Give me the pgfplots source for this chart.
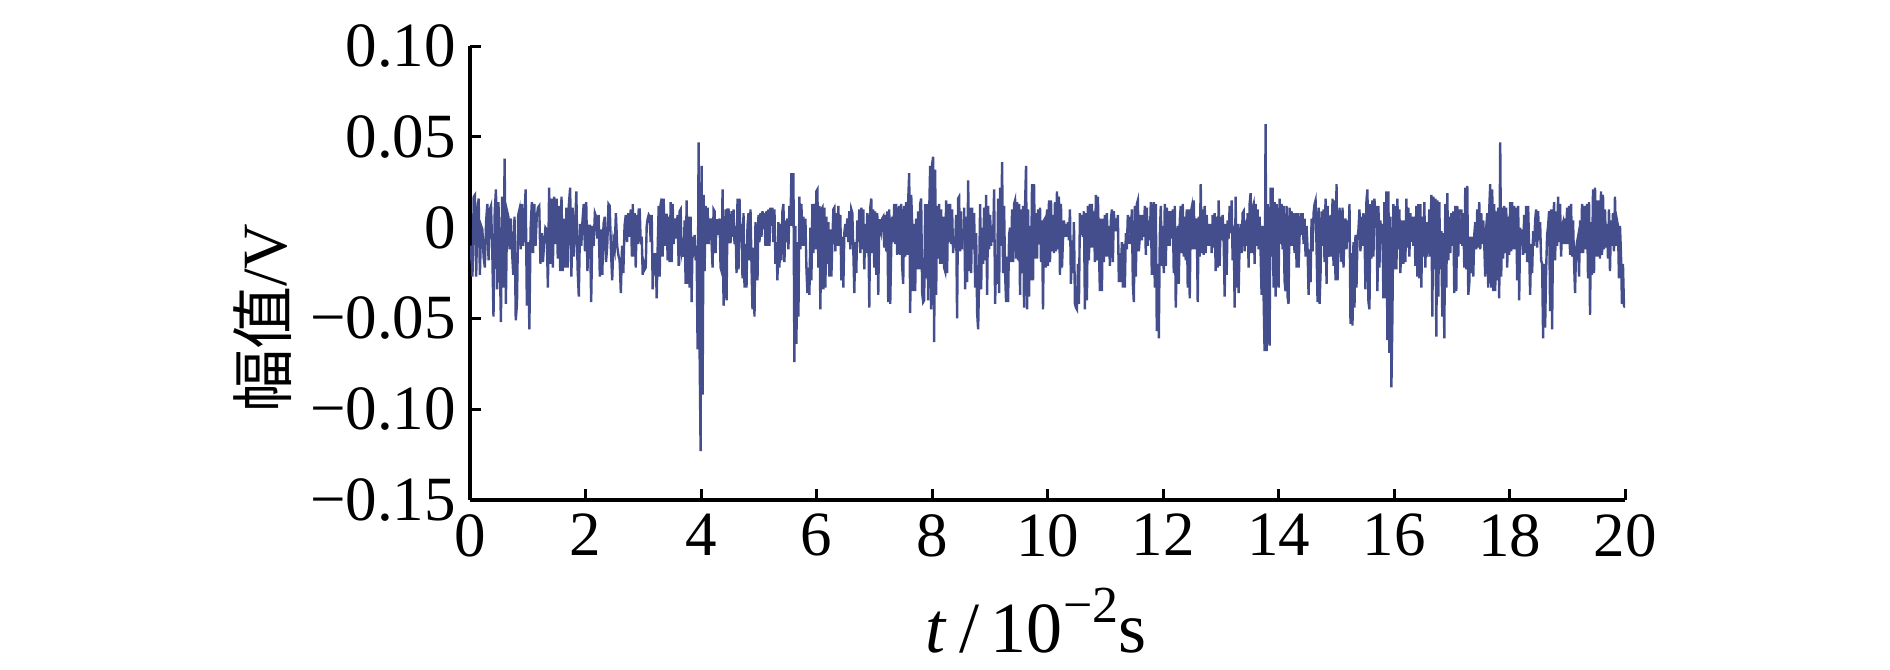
\documentclass[border=0pt]{standalone}
\usepackage{pgfplots}
\pgfplotsset{compat=1.18}
\usepackage{pgfplotstable}
\usepackage{fontspec}
\setmainfont{Liberation Serif}
\newfontfamily\cjk{Noto Sans CJK SC}
\definecolor{sig}{HTML}{454E8D}

% segment A: t from 0, step 0.02141
\pgfplotstableread[row sep=\\,header=false]{
-0.018\\ -0.010\\ -0.027\\ 0.017\\ 0.018\\ -0.027\\ 0.009\\ 0.016\\ -0.026\\ 0.001\\
-0.001\\ -0.016\\ -0.022\\ 0.003\\ 0.013\\ -0.018\\ 0.010\\ 0.012\\ -0.012\\ -0.049\\
0.009\\ 0.021\\ -0.034\\ 0.014\\ -0.014\\ -0.052\\ 0.017\\ -0.033\\ 0.038\\ -0.042\\
0.009\\ 0.006\\ -0.012\\ 0.005\\ -0.013\\ -0.026\\ 0.006\\ -0.051\\ -0.042\\ 0.007\\
0.010\\ -0.012\\ 0.013\\ -0.010\\ 0.006\\ 0.021\\ -0.043\\ -0.008\\ -0.056\\ -0.001\\
0.014\\ -0.014\\ 0.013\\ -0.010\\ 0.006\\ 0.011\\ 0.012\\ -0.020\\ -0.003\\ -0.019\\
-0.008\\ 0.000\\ -0.001\\ -0.033\\ 0.022\\ -0.020\\ 0.016\\ -0.022\\ 0.017\\ -0.009\\
0.016\\ -0.017\\ 0.012\\ -0.024\\ 0.017\\ -0.024\\ 0.005\\ -0.022\\ 0.011\\ -0.022\\
0.013\\ 0.022\\ -0.027\\ 0.011\\ -0.016\\ -0.001\\ 0.020\\ -0.022\\ -0.038\\ 0.002\\
-0.010\\ 0.004\\ 0.013\\ -0.013\\ 0.014\\ -0.024\\ 0.001\\ 0.001\\ -0.041\\ 0.001\\
-0.010\\ 0.008\\ 0.006\\ -0.006\\ 0.007\\ -0.027\\ -0.001\\ -0.026\\ 0.002\\ 0.006\\
-0.019\\ -0.010\\ 0.013\\ 0.012\\ -0.012\\ -0.029\\ -0.008\\ -0.012\\ 0.008\\ -0.010\\
-0.015\\ -0.018\\ -0.036\\ -0.010\\ -0.025\\ 0.001\\ 0.007\\ -0.008\\ 0.008\\ -0.005\\
0.010\\ -0.016\\
}\segA

% segment B: t from 2.818, step 0.01728
\pgfplotstableread[row sep=\\,header=false]{
0.013\\ -0.016\\ 0.008\\ -0.022\\ 0.007\\ -0.009\\ 0.010\\ 0.010\\ -0.009\\ -0.005\\
-0.026\\ -0.020\\ -0.023\\ -0.022\\ 0.001\\ 0.005\\ 0.007\\ 0.006\\ -0.008\\ 0.007\\
-0.034\\ -0.014\\ -0.026\\ -0.014\\ -0.039\\ -0.011\\ 0.012\\ -0.027\\ 0.013\\ 0.016\\
-0.016\\ 0.016\\ -0.010\\ 0.007\\ 0.007\\ -0.018\\ 0.006\\ -0.019\\ 0.014\\ -0.019\\
0.013\\ -0.009\\ 0.005\\ -0.006\\ 0.001\\ 0.007\\ -0.021\\ 0.009\\ 0.010\\ -0.014\\
-0.011\\ -0.016\\ 0.004\\ -0.031\\ 0.015\\ -0.031\\ 0.006\\ -0.033\\ 0.006\\ -0.041\\
-0.005\\ -0.010\\ -0.004\\ -0.018\\ -0.010\\ -0.067\\ 0.047\\ -0.067\\ -0.123\\ 0.034\\
-0.092\\ 0.018\\ -0.024\\ 0.012\\ -0.009\\ 0.011\\ -0.009\\ 0.001\\ 0.005\\ -0.008\\
-0.022\\ 0.010\\ 0.009\\ -0.014\\ 0.004\\ 0.004\\ -0.004\\ 0.005\\ -0.022\\ -0.024\\
0.021\\ -0.043\\ -0.026\\ 0.010\\ -0.040\\ 0.010\\ 0.010\\ -0.008\\ -0.008\\ 0.009\\
-0.005\\ 0.010\\ -0.009\\ 0.001\\ -0.025\\ 0.016\\ -0.023\\ 0.016\\ -0.008\\ 0.002\\
-0.028\\ 0.008\\ -0.033\\ -0.009\\ -0.033\\ 0.001\\ 0.008\\ -0.018\\ 0.010\\ -0.020\\
-0.045\\ -0.011\\ -0.049\\ 0.003\\ -0.010\\ -0.029\\ 0.007\\ -0.008\\ 0.008\\ -0.005\\
0.009\\ 0.004\\ 0.008\\ -0.010\\ 0.009\\ -0.010\\ 0.010\\ -0.010\\ 0.011\\ 0.001\\
0.011\\ -0.008\\ 0.010\\ -0.020\\ -0.008\\ -0.029\\ 0.003\\ -0.022\\ 0.002\\ -0.018\\
0.009\\ 0.013\\ -0.019\\ 0.004\\ -0.008\\ 0.005\\ -0.012\\ 0.012\\ 0.001\\ 0.030\\
0.001\\ 0.030\\ -0.074\\ 0.001\\ -0.064\\ -0.008\\
}\segB

% segment C: t from 5.687, step 0.01728
\pgfplotstableread[row sep=\\,header=false]{
-0.049\\ 0.017\\ -0.012\\ 0.013\\ -0.010\\ 0.006\\ -0.010\\ 0.005\\ -0.022\\ -0.036\\
-0.022\\ -0.037\\ 0.000\\ -0.029\\ 0.013\\ -0.014\\ 0.013\\ -0.012\\ 0.020\\ 0.021\\
-0.022\\ 0.012\\ -0.045\\ 0.010\\ 0.011\\ -0.034\\ 0.011\\ -0.033\\ 0.006\\ -0.020\\
0.003\\ -0.027\\ -0.001\\ -0.027\\ -0.008\\ 0.010\\ 0.011\\ -0.013\\ 0.008\\ -0.010\\
0.012\\ -0.010\\ 0.007\\ -0.029\\ -0.005\\ -0.033\\ -0.003\\ 0.002\\ -0.005\\ 0.005\\
-0.008\\ 0.009\\ -0.012\\ 0.010\\ 0.008\\ -0.012\\ -0.036\\ -0.008\\ -0.025\\ 0.004\\
-0.008\\ 0.010\\ -0.014\\ 0.011\\ -0.012\\ 0.010\\ -0.023\\ 0.002\\ -0.014\\ 0.008\\
0.004\\ -0.044\\ 0.011\\ 0.016\\ -0.014\\ 0.010\\ -0.022\\ 0.009\\ -0.026\\ 0.008\\
-0.037\\ 0.004\\ 0.004\\ -0.001\\ 0.005\\ 0.006\\ -0.011\\ 0.007\\ -0.013\\ 0.009\\
-0.041\\ 0.010\\ -0.042\\ -0.010\\ 0.006\\ -0.008\\ 0.013\\ -0.009\\ 0.013\\ -0.015\\
-0.007\\ 0.012\\ -0.015\\ 0.013\\ -0.022\\ -0.031\\ 0.012\\ -0.016\\ 0.014\\ -0.015\\
0.015\\ 0.030\\ -0.047\\ 0.018\\ 0.002\\ -0.035\\ 0.002\\ -0.035\\ 0.005\\ -0.023\\
0.009\\ -0.023\\ 0.013\\ 0.016\\ -0.036\\ -0.041\\ -0.040\\ 0.013\\ -0.028\\ 0.013\\
-0.040\\ 0.007\\ 0.034\\ -0.045\\ 0.035\\ 0.039\\ -0.063\\ 0.032\\ -0.037\\ 0.012\\
-0.017\\ 0.013\\ -0.020\\ 0.010\\ -0.020\\ 0.006\\ -0.022\\ -0.024\\ 0.015\\ -0.025\\
0.013\\ -0.008\\ 0.013\\ -0.009\\ 0.010\\ -0.014\\ -0.005\\ -0.011\\ 0.007\\ -0.050\\
0.016\\ 0.017\\ -0.013\\ 0.009\\ -0.012\\ -0.001\\
}\segC

% segment D: t from 8.557, step 0.01728
\pgfplotstableread[row sep=\\,header=false]{
0.011\\ -0.034\\ 0.006\\ -0.030\\ 0.026\\ -0.024\\ 0.011\\ -0.025\\ 0.011\\ -0.012\\
0.008\\ -0.033\\ -0.003\\ -0.047\\ -0.056\\ -0.027\\ 0.013\\ -0.034\\ 0.000\\ -0.020\\
0.011\\ -0.018\\ 0.018\\ -0.037\\ 0.012\\ -0.012\\ 0.007\\ -0.010\\ 0.001\\ -0.008\\
0.021\\ -0.042\\ -0.018\\ -0.031\\ 0.016\\ -0.036\\ 0.022\\ -0.010\\ 0.036\\ -0.025\\
0.012\\ -0.025\\ -0.041\\ -0.016\\ -0.041\\ -0.004\\ 0.000\\ -0.019\\ 0.010\\ -0.019\\
0.013\\ 0.015\\ -0.017\\ 0.014\\ -0.018\\ 0.013\\ -0.037\\ 0.010\\ -0.025\\ 0.012\\
-0.044\\ 0.012\\ 0.034\\ -0.045\\ 0.010\\ -0.038\\ 0.001\\ -0.029\\ 0.024\\ -0.029\\
0.024\\ -0.017\\ 0.008\\ -0.017\\ 0.010\\ -0.009\\ 0.011\\ -0.019\\ 0.004\\ -0.045\\
0.004\\ 0.005\\ -0.022\\ 0.010\\ -0.021\\ 0.015\\ -0.019\\ 0.015\\ -0.013\\ 0.007\\
-0.014\\ 0.014\\ -0.013\\ 0.020\\ -0.012\\ 0.017\\ -0.026\\ 0.013\\ -0.022\\ -0.007\\
0.004\\ -0.005\\ 0.002\\ -0.005\\ 0.003\\ -0.007\\ 0.010\\ -0.031\\ -0.007\\ -0.025\\
0.003\\ -0.042\\ -0.044\\ -0.045\\ -0.020\\ -0.042\\ 0.008\\ -0.004\\ 0.007\\ -0.005\\
0.009\\ -0.045\\ 0.008\\ -0.040\\ 0.012\\ -0.018\\ 0.013\\ -0.011\\ 0.013\\ -0.011\\
0.009\\ -0.019\\ 0.018\\ -0.018\\ 0.017\\ -0.011\\ -0.035\\ 0.005\\ -0.035\\ 0.005\\
-0.019\\ 0.007\\ -0.016\\ 0.008\\ -0.016\\ 0.001\\ -0.021\\ 0.004\\ 0.010\\ -0.019\\
0.009\\ -0.002\\ 0.005\\ -0.002\\ 0.007\\ -0.030\\ -0.014\\ -0.030\\ -0.008\\ -0.033\\
-0.009\\ -0.033\\ -0.003\\ -0.012\\ 0.007\\ -0.009\\
}\segD

% segment E: t from 11.426, step 0.01728
\pgfplotstableread[row sep=\\,header=false]{
0.006\\ -0.009\\ 0.010\\ -0.031\\ -0.041\\ 0.012\\ -0.027\\ 0.013\\ 0.015\\ -0.013\\
-0.005\\ 0.007\\ -0.007\\ 0.007\\ -0.005\\ 0.012\\ -0.015\\ 0.011\\ -0.010\\ 0.004\\
-0.007\\ 0.014\\ -0.026\\ 0.006\\ 0.014\\ -0.033\\ 0.013\\ -0.057\\ -0.020\\ -0.061\\
-0.005\\ 0.012\\ -0.021\\ 0.001\\ -0.025\\ 0.013\\ -0.021\\ 0.011\\ -0.010\\ 0.009\\
-0.010\\ 0.009\\ -0.006\\ 0.010\\ -0.025\\ 0.012\\ -0.044\\ -0.019\\ 0.001\\ -0.031\\
0.004\\ 0.012\\ -0.014\\ 0.013\\ -0.016\\ 0.006\\ -0.018\\ 0.010\\ -0.033\\ 0.010\\
-0.039\\ 0.008\\ 0.011\\ -0.012\\ 0.015\\ -0.012\\ 0.002\\ 0.005\\ -0.041\\ 0.006\\
-0.016\\ 0.024\\ -0.014\\ 0.010\\ -0.015\\ 0.012\\ -0.014\\ 0.007\\ -0.010\\ 0.002\\
-0.010\\ 0.002\\ -0.014\\ 0.007\\ -0.011\\ 0.008\\ -0.024\\ 0.006\\ -0.022\\ 0.015\\
-0.021\\ 0.006\\ -0.007\\ 0.007\\ -0.007\\ -0.038\\ 0.002\\ -0.026\\ 0.004\\ -0.006\\
0.012\\ -0.003\\ 0.015\\ -0.018\\ 0.001\\ -0.044\\ 0.017\\ -0.033\\ 0.002\\ -0.036\\
-0.008\\ 0.002\\ -0.014\\ 0.008\\ 0.009\\ -0.013\\ 0.004\\ -0.010\\ 0.008\\ -0.022\\
0.013\\ 0.019\\ -0.014\\ 0.011\\ 0.013\\ -0.020\\ 0.013\\ -0.010\\ 0.010\\ -0.012\\
0.006\\ -0.013\\ -0.037\\ 0.001\\ -0.037\\ -0.068\\ 0.057\\ -0.068\\ 0.013\\ -0.056\\
-0.065\\ 0.022\\ -0.016\\ 0.022\\ -0.033\\ 0.014\\ -0.038\\ 0.013\\ -0.025\\ -0.033\\
0.016\\ -0.009\\ 0.013\\ -0.012\\ 0.012\\ -0.029\\ -0.035\\ 0.012\\ -0.038\\ -0.042\\
0.011\\ -0.010\\ 0.009\\ -0.010\\ 0.008\\ -0.014\\
}\segE

% segment F: t from 14.296, step 0.01728
\pgfplotstableread[row sep=\\,header=false]{
0.008\\ -0.022\\ 0.008\\ -0.022\\ -0.004\\ 0.008\\ -0.004\\ 0.008\\ -0.009\\ 0.005\\
-0.016\\ 0.001\\ -0.012\\ -0.037\\ -0.012\\ -0.030\\ 0.005\\ -0.013\\ 0.008\\ 0.013\\
0.015\\ -0.011\\ -0.041\\ 0.011\\ -0.042\\ -0.025\\ 0.009\\ -0.010\\ 0.010\\ -0.019\\
0.016\\ -0.031\\ 0.012\\ -0.010\\ -0.016\\ 0.007\\ -0.016\\ 0.016\\ -0.021\\ 0.015\\
-0.029\\ 0.024\\ -0.029\\ -0.010\\ 0.011\\ -0.010\\ -0.019\\ 0.011\\ -0.022\\ 0.000\\
0.005\\ -0.012\\ 0.004\\ -0.008\\ 0.013\\ -0.053\\ -0.014\\ -0.054\\ -0.008\\ -0.044\\
-0.004\\ -0.033\\ -0.006\\ -0.001\\ 0.010\\ -0.013\\ 0.006\\ -0.010\\ 0.008\\ -0.001\\
-0.034\\ 0.015\\ 0.021\\ -0.041\\ -0.045\\ 0.013\\ -0.017\\ 0.015\\ -0.016\\ 0.016\\
0.004\\ 0.012\\ -0.035\\ 0.012\\ -0.022\\ 0.004\\ -0.009\\ 0.002\\ -0.039\\ 0.014\\
-0.039\\ 0.020\\ -0.062\\ 0.020\\ -0.069\\ 0.006\\ -0.088\\ -0.049\\ 0.013\\ -0.023\\
0.012\\ -0.023\\ 0.016\\ -0.012\\ 0.010\\ -0.025\\ -0.005\\ 0.004\\ -0.020\\ 0.004\\
-0.019\\ 0.016\\ -0.011\\ 0.011\\ -0.016\\ 0.008\\ -0.008\\ 0.006\\ -0.010\\ 0.006\\
-0.021\\ 0.012\\ -0.027\\ 0.013\\ -0.028\\ 0.013\\ -0.033\\ 0.006\\ -0.016\\ 0.014\\
-0.022\\ 0.003\\ -0.016\\ -0.008\\ 0.010\\ -0.016\\ 0.018\\ -0.049\\ 0.017\\ -0.023\\
0.016\\ -0.060\\ 0.015\\ -0.038\\ 0.014\\ -0.023\\ -0.002\\ -0.049\\ -0.003\\ -0.061\\
0.013\\ -0.033\\ 0.019\\ -0.018\\ 0.006\\ -0.014\\ 0.008\\ -0.010\\ 0.009\\ -0.036\\
0.012\\ -0.035\\ 0.012\\ -0.016\\ 0.010\\ -0.009\\
}\segF

% segment G: t from 17.165, step 0.01728
\pgfplotstableread[row sep=\\,header=false]{
0.010\\ -0.010\\ 0.008\\ -0.022\\ 0.022\\ -0.023\\ 0.023\\ -0.037\\ -0.031\\ -0.005\\
-0.025\\ -0.005\\ -0.027\\ -0.004\\ 0.003\\ -0.012\\ 0.010\\ -0.011\\ 0.014\\ -0.012\\
0.008\\ -0.009\\ 0.004\\ -0.009\\ -0.027\\ 0.000\\ 0.008\\ -0.033\\ 0.010\\ 0.024\\
-0.033\\ 0.021\\ -0.035\\ 0.013\\ -0.035\\ 0.009\\ -0.029\\ 0.011\\ -0.039\\ 0.047\\
-0.027\\ 0.011\\ -0.017\\ 0.012\\ -0.014\\ 0.011\\ -0.022\\ 0.006\\ -0.015\\ 0.014\\
-0.013\\ 0.014\\ -0.012\\ 0.012\\ -0.012\\ 0.011\\ -0.029\\ 0.012\\ -0.040\\ 0.000\\
-0.010\\ -0.001\\ -0.015\\ 0.007\\ -0.014\\ 0.012\\ -0.019\\ 0.012\\ -0.012\\ -0.037\\
-0.009\\ -0.025\\ -0.002\\ -0.010\\ 0.004\\ 0.010\\ -0.011\\ 0.009\\ -0.007\\ 0.003\\
-0.018\\ -0.020\\ -0.061\\ -0.020\\ -0.055\\ -0.024\\ -0.004\\ 0.001\\ 0.009\\ -0.046\\
0.010\\ -0.056\\ 0.001\\ 0.014\\ -0.018\\ 0.009\\ -0.010\\ 0.017\\ -0.008\\ 0.013\\
-0.016\\ 0.001\\ 0.003\\ -0.009\\ 0.005\\ -0.009\\ 0.011\\ -0.009\\ 0.012\\ -0.015\\
0.013\\ -0.016\\ 0.004\\ -0.019\\ -0.036\\ -0.012\\ -0.008\\ -0.005\\ -0.027\\ 0.004\\
-0.014\\ 0.013\\ -0.014\\ 0.012\\ -0.012\\ 0.004\\ 0.013\\ -0.028\\ 0.014\\ -0.048\\
0.003\\ -0.026\\ 0.021\\ -0.025\\ 0.022\\ -0.016\\ 0.015\\ -0.016\\ 0.015\\ -0.017\\
0.020\\ -0.015\\ 0.018\\ -0.012\\ 0.010\\ -0.011\\ 0.002\\ -0.017\\ 0.010\\ -0.024\\
0.004\\ -0.010\\ 0.008\\ -0.013\\ 0.017\\ -0.010\\ 0.004\\ 0.001\\ -0.028\\ 0.001\\
-0.014\\ -0.042\\ -0.020\\ -0.043\\ -0.044\\
}\segG

\begin{document}
\begin{tikzpicture}
\useasboundingbox (-117.5pt,-42.25pt) rectangle (355pt,125pt);
\begin{axis}[
  scale only axis, width=288.75pt, height=113.5pt,
  at={(0pt,0pt)}, anchor=south west,
  xmin=0, xmax=20, ymin=-0.15, ymax=0.10,
  axis x line*=bottom, axis y line*=left,
  xtick={0,2,...,20},
  ytick={-0.15,-0.10,-0.05,0,0.05,0.10},
  yticklabels={−0.15,−0.10,−0.05,0,0.05,0.10},
  tick align=inside,
  major tick length=2.8pt,
  every tick/.style={black, line width=0.75pt},
  axis line style={black, line width=0.8pt},
  tick label style={font=\fontsize{15.75}{18}\selectfont},
  /pgf/number format/assume math mode=true,
  xlabel={\textit{t}\,/\,10\raisebox{0.42em}{\fontsize{13}{14}\selectfont −2}s},
  ylabel={{\cjk 幅值}/V},
  ylabel style={font=\fontsize{15.75}{18}\selectfont},
  xlabel style={font=\fontsize{18}{20}\selectfont, at={(axis description cs:0.49,-0.265)}, anchor=center},
  ylabel style={at={(axis description cs:-0.18,0.40)}, anchor=center},
]
\addplot[sig, line width=0.6pt] table[x expr={\coordindex*0.02141}, y index=0] {\segA};
\addplot[sig, line width=0.6pt] table[x expr={2.818+\coordindex*0.01728}, y index=0] {\segB};
\addplot[sig, line width=0.6pt] table[x expr={5.687+\coordindex*0.01728}, y index=0] {\segC};
\addplot[sig, line width=0.6pt] table[x expr={8.557+\coordindex*0.01728}, y index=0] {\segD};
\addplot[sig, line width=0.6pt] table[x expr={11.426+\coordindex*0.01728}, y index=0] {\segE};
\addplot[sig, line width=0.6pt] table[x expr={14.296+\coordindex*0.01728}, y index=0] {\segF};
\addplot[sig, line width=0.6pt] table[x expr={17.165+\coordindex*0.01728}, y index=0] {\segG};
\end{axis}
\end{tikzpicture}
\end{document}
